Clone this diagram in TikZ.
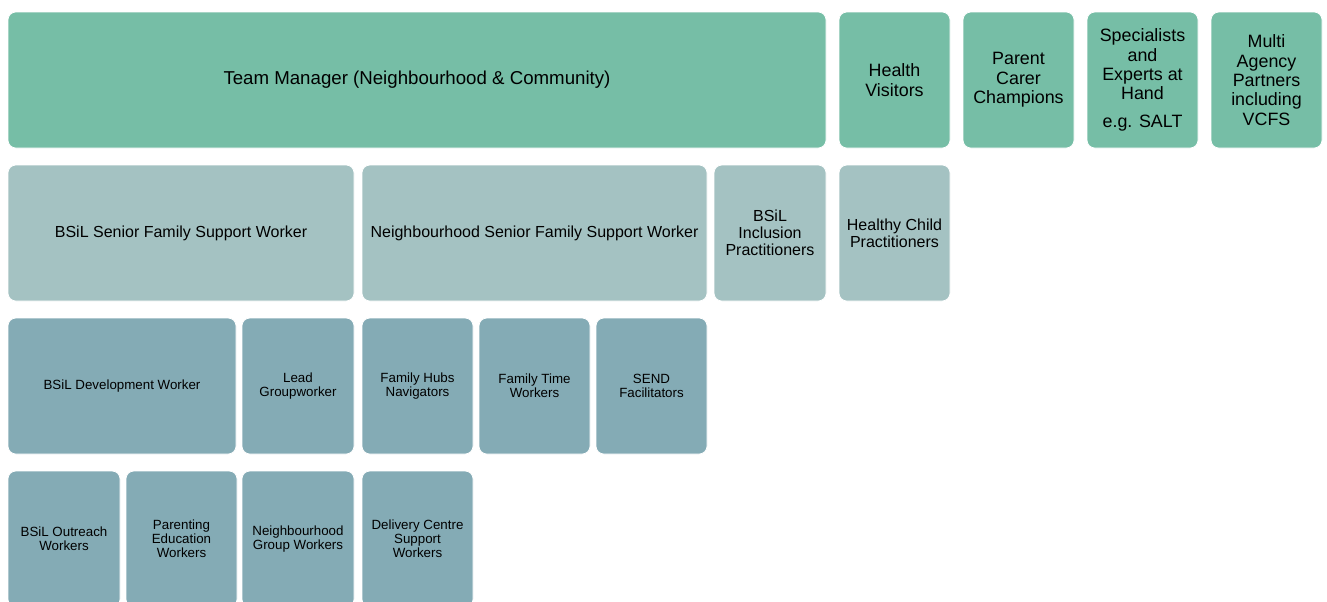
\documentclass[tikz,border=0pt]{standalone}
\usepackage{fontspec}
\setmainfont{Liberation Sans}
\definecolor{teamgreen}{HTML}{76BEA6}
\definecolor{seniorgrey}{HTML}{A4C2C2}
\definecolor{workerblue}{HTML}{84ABB5}
\tikzset{
  % box spanning pixel corners (x1,y1)-(x2,y2)
  span/.style n args={4}{
    at={({(#1+#3)/2},{(#2+#4)/2})},
    minimum width={(#3-#1)*0.75pt},
    minimum height={(#4-#2)*0.75pt}},
  tile/.style={rectangle, rounded corners=6pt, draw=white, line width=0.5pt,
    inner sep=1pt, align=center, text=black},
  lead/.style={tile, fill=teamgreen, font=\fontsize{13.4}{14.5}\selectfont},
  senior/.style={tile, fill=seniorgrey, font=\fontsize{12}{12.7}\selectfont},
  worker/.style={tile, fill=workerblue, font=\fontsize{10}{10.5}\selectfont},
}
\begin{document}
\begin{tikzpicture}[x=0.75pt,y=-0.75pt]
\clip (0,0) rectangle (1327,601);
\fill[white] (0,0) rectangle (1327,601);

% top row
\node[lead, span={8}{12}{826}{148}, font=\fontsize{14}{15}\selectfont] (tm)
  {Team Manager (Neighbourhood \& Community)};
\node[lead, span={839}{12}{950}{148}] (hv) {Health\\Visitors};
\node[lead, span={963}{12}{1074}{148}] (pcc) {Parent\\Carer\\Champions};
\node[lead, span={1087}{12}{1198}{148}] (spec)
  {Specialists\\and\\Experts at\\Hand\\[6pt]e.g. SALT};
\node[lead, span={1211}{12}{1322}{148}] (map)
  {Multi\\Agency\\Partners\\including\\VCFS};

% second row
\node[senior, span={8}{165}{354}{301}] (bsfsw) {BSiL Senior Family Support Worker};
\node[senior, span={362}{165}{707}{301}] (nsfsw) {Neighbourhood Senior Family Support Worker};
\node[senior, span={714}{165}{826}{301}] (bip) {BSiL\\Inclusion\\Practitioners};
\node[senior, span={839}{165}{950}{301}] (hcp) {Healthy Child\\Practitioners};

% third row
\node[worker, span={8}{318}{236}{454}] (bdw) {BSiL Development Worker};
\node[worker, span={242}{318}{354}{454}] (lgw) {Lead\\Groupworker};
\node[worker, span={362}{318}{473}{454}] (fhn) {Family Hubs\\Navigators};
\node[worker, span={479}{318}{590}{454}] (ftw) {Family Time\\Workers};
\node[worker, span={596}{318}{707}{454}] (send) {SEND\\Facilitators};

% fourth row (runs past the lower edge)
\node[worker, span={8}{471}{120}{607}] (bow) {BSiL Outreach\\Workers};
\node[worker, span={126}{471}{237}{607}] (pew) {Parenting\\Education\\Workers};
\node[worker, span={242}{471}{354}{607}] (ngw) {Neighbourhood\\Group Workers};
\node[worker, span={362}{471}{473}{607}] (dcsw) {Delivery Centre\\Support\\Workers};
\end{tikzpicture}
\end{document}
